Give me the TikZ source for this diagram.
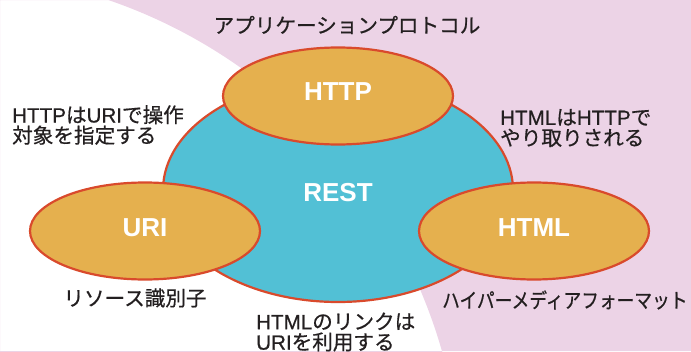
\documentclass[tikz,border=0pt]{standalone}
\usepackage{fontspec}
\setmainfont{Liberation Sans}
\newfontfamily\jp[FakeBold=0.6]{Noto Sans CJK JP}
\newfontfamily\lat[FakeBold=0.6]{Liberation Sans}
\usetikzlibrary{shapes.geometric}
\definecolor{pinkbg}{RGB}{236,211,230}
\definecolor{restcyan}{RGB}{82,192,213}
\definecolor{ovorange}{RGB}{229,176,78}
\definecolor{ovline}{RGB}{217,74,44}
\definecolor{txt}{RGB}{35,31,32}
\tikzset{
  core/.style={ellipse, draw=ovline, line width=2.2pt, fill=restcyan, inner sep=0pt,
    minimum width=350pt, minimum height=224pt},
  part/.style={ellipse, draw=ovline, line width=2.2pt, fill=ovorange, inner sep=0pt,
    minimum width=230pt, minimum height=97pt},
  inlabel/.style={text=white, font=\fontsize{26}{26}\selectfont\bfseries},
  note/.style={text=txt, inner sep=0pt, font=\jp\fontsize{20.6}{20.5}\selectfont, align=left}
}
\begin{document}
\begin{tikzpicture}[x=1pt,y=-1pt]
\useasboundingbox (0,0) rectangle (691,351);
\clip (0,0) rectangle (691,351);
\fill[pinkbg, even odd rule] (0,0) rectangle (691,351) (-61,495) circle [radius=523];
\node[core] (rest) at (338,190) {};
\node[part] (http) at (338,96) {};
\node[part] (uri) at (145,231) {};
\node[part] (html) at (534,231) {};
\node[inlabel] (lhttp) at (338,92) {HTTP};
\node[inlabel] (lrest) at (338,193) {REST};
\node[inlabel] (luri) at (145,228) {URI};
\node[inlabel] (lhtml) at (534,228) {HTML};
\node[note] (proto) at (347,25) {アプリケーションプロトコル};
\node[note, anchor=west] (n1) at (12,125) {{\lat HTTP}は{\lat URI}で操作\\対象を指定する};
\node[note, anchor=west] (n2) at (500,128) {{\lat HTML}は{\lat HTTP}で\\やり取りされる};
\node[note] (n3) at (135,298) {リソース識別子};
\node[note, anchor=west, xscale=0.86] (n4) at (442,300) {ハイパーメディアフォーマット};
\node[note, anchor=west] (n5) at (256,332) {{\lat HTML}のリンクは\\{\lat URI}を利用する};
\end{tikzpicture}
\end{document}
